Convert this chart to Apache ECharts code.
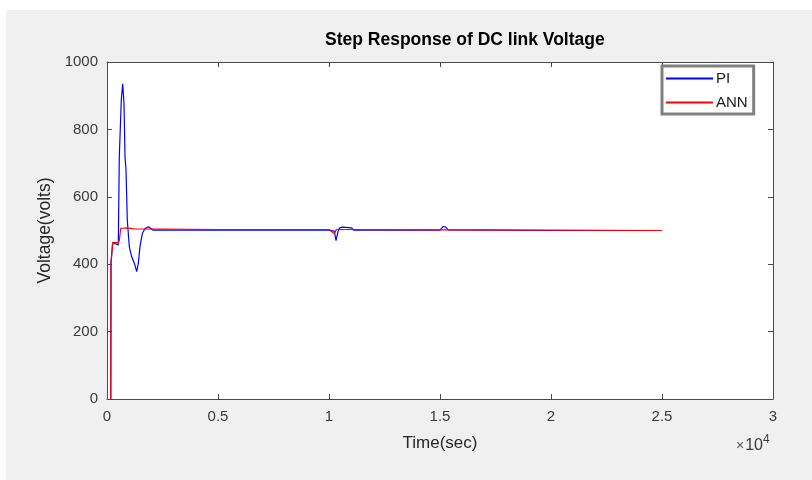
<!DOCTYPE html>
<html>
<head>
<meta charset="utf-8">
<script src="https://cdn.jsdelivr.net/npm/echarts@6/dist/echarts.min.js"></script>
<style>
html,body{margin:0;padding:0;background:#ffffff;}
#chart{width:812px;height:480px;}
</style>
</head>
<body>
<div id="chart"></div>
<script>
// Data
var chartTitle = 'Step Response of DC link Voltage';
var xAxisName = 'Time(sec)';
var yAxisName = 'Voltage(volts)';
var seriesNames = ['PI', 'ANN'];
var xTicks = [0, 5000, 10000, 15000, 20000, 25000, 30000];
var yTicks = [0, 200, 400, 600, 800, 1000];

var piTime = [170, 180, 257, 509, 554, 617, 644, 707, 766, 811, 856, 914, 1005, 1111, 1231, 1338, 1411, 1486, 1591, 1712, 1860, 2086, 5000, 10000, 10240, 10315, 10400, 10464, 10600, 11023, 11100, 15000, 15077, 15150, 15250, 15374, 15450, 20000, 25000];
var piVolt = [0, 404, 464, 457, 719, 724, 887, 935, 877, 719, 680, 531, 452, 422, 403, 378, 403, 452, 491, 506, 511, 501, 501, 501, 498, 470, 495, 507, 510, 508, 501, 501, 503, 512, 510, 502, 500, 500, 500];

var annTime = [170, 180, 257, 509, 554, 617, 700, 900, 1200, 5000, 10000, 10240, 10330, 10500, 15000, 20000, 25000];
var annVolt = [0, 404, 464, 464, 470, 506, 509, 508, 505, 503, 503, 490, 503, 503, 502, 501, 500];

function pairs(xs, ys) {
  var out = [];
  for (var i = 0; i < xs.length; i++) out.push([xs[i], ys[i]]);
  return out;
}

var axisColor = '#4a4a4a';
var labelColor = '#3a3a3a';
var font = '"Liberation Sans", Arial, Helvetica, sans-serif';

var chart = echarts.init(document.getElementById('chart'), null, {renderer: 'canvas'});
chart.setOption({
  animation: false,
  backgroundColor: '#ffffff',
  textStyle: {fontFamily: font},
  graphic: [
    {type: 'rect', z: -10, silent: true, shape: {x: 6, y: 10, width: 806, height: 470}, style: {fill: '#f0f0f0'}},
    {type: 'text', left: 325, top: 31, style: {text: chartTitle, font: 'bold 17.5px ' + font, fill: '#000000'}},
    {type: 'text', left: 736, top: 434, style: {
      text: '{a|×}{b|10}{c|4}',
      rich: {
        a: {fontSize: 14, fontFamily: font, fill: '#555555', padding: [4, 1, 0, 0]},
        b: {fontSize: 16, fontFamily: font, fill: '#3a3a3a', padding: [4, 0, 0, 0]},
        c: {fontSize: 12, fontFamily: font, fill: '#3a3a3a', verticalAlign: 'top', padding: [0, 0, 1, 0]}
      }
    }}
  ],
  legend: {
    data: [
      {name: seriesNames[0], icon: 'rect', itemStyle: {color: '#0000ff'}},
      {name: seriesNames[1], icon: 'rect', itemStyle: {color: '#ff0000'}}
    ],
    orient: 'vertical',
    left: 662,
    top: 66,
    itemWidth: 47,
    itemHeight: 2,
    itemGap: 7,
    padding: [4, 6, 3, 4],
    borderColor: '#808080',
    borderWidth: 3,
    backgroundColor: '#ffffff',
    textStyle: {fontSize: 15, color: '#1a1a1a', fontFamily: font, padding: [0, 0, 0, -2], lineHeight: 17}
  },
  grid: {left: 107, right: 39, top: 62, bottom: 81, containLabel: false, backgroundColor: '#ffffff', show: true, borderWidth: 0},
  xAxis: [
    {
      type: 'value', min: 0, max: 30000, interval: 5000, position: 'bottom',
      name: xAxisName, nameLocation: 'middle', nameGap: 36,
      nameTextStyle: {fontSize: 17, color: '#262626', fontFamily: font},
      axisLine: {show: true, onZero: false, lineStyle: {color: axisColor, width: 1}},
      axisTick: {show: true, inside: true, length: 5, lineStyle: {color: axisColor}},
      axisLabel: {fontSize: 15, color: labelColor, margin: 10, formatter: function (v) { return String(v / 10000); }},
      splitLine: {show: false}
    },
    {
      type: 'value', min: 0, max: 30000, interval: 5000, position: 'top',
      axisLine: {show: true, onZero: false, lineStyle: {color: axisColor, width: 1}},
      axisTick: {show: true, inside: true, length: 5, lineStyle: {color: axisColor}},
      axisLabel: {show: false},
      splitLine: {show: false}
    }
  ],
  yAxis: [
    {
      type: 'value', min: 0, max: 1000, interval: 200, position: 'left',
      name: yAxisName, nameLocation: 'middle', nameGap: 41, nameRotate: 90,
      nameTextStyle: {fontSize: 17.5, color: '#262626', fontFamily: font},
      axisLine: {show: true, onZero: false, lineStyle: {color: axisColor, width: 1}},
      axisTick: {show: true, inside: true, length: 5, lineStyle: {color: axisColor}},
      axisLabel: {fontSize: 15, color: labelColor, margin: 9, formatter: function (v) { return String(v); }},
      splitLine: {show: false}
    },
    {
      type: 'value', min: 0, max: 1000, interval: 200, position: 'right',
      axisLine: {show: true, onZero: false, lineStyle: {color: axisColor, width: 1}},
      axisTick: {show: true, inside: true, length: 5, lineStyle: {color: axisColor}},
      axisLabel: {show: false},
      splitLine: {show: false}
    }
  ],
  series: [
    {
      name: seriesNames[0], type: 'line', xAxisIndex: 0, yAxisIndex: 0,
      data: pairs(piTime, piVolt), showSymbol: false, symbol: 'none',
      lineStyle: {color: '#0000ff', width: 1.2}, itemStyle: {color: '#0000ff'}
    },
    {
      name: seriesNames[1], type: 'line', xAxisIndex: 0, yAxisIndex: 0,
      data: pairs(annTime, annVolt), showSymbol: false, symbol: 'none',
      lineStyle: {color: '#ff0000', width: 1.2}, itemStyle: {color: '#ff0000'}
    }
  ]
});
</script>
</body>
</html>
